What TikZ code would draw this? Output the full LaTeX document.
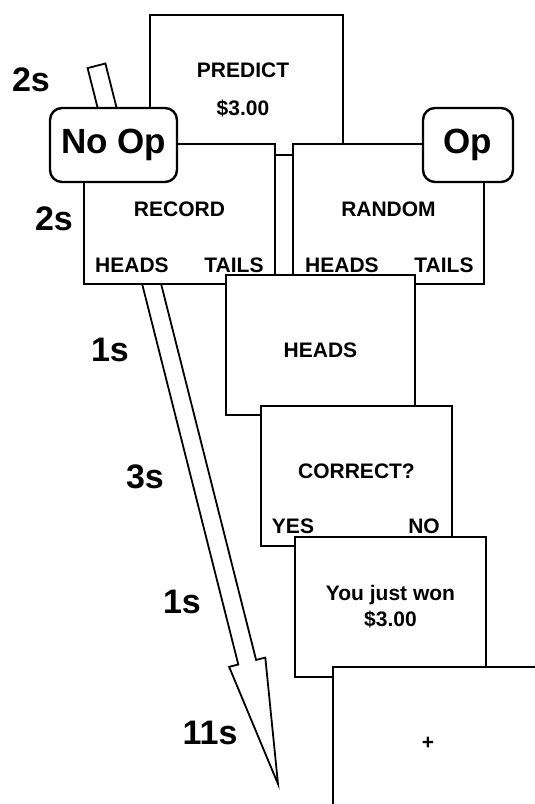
\documentclass[tikz,border=0pt]{standalone}
\usepackage{fontspec}
\setmainfont{Liberation Sans}
\usetikzlibrary{arrows}

\begin{document}
\begin{tikzpicture}[x=1pt,y=-1pt,
	screen_node/.style={rectangle,draw,fill=white,line width=2.4pt,minimum width=191pt,minimum height=140pt,inner sep=0pt,align=center,font=\fontsize{21}{26}\selectfont\bfseries},
	op_node/.style={rectangle,rounded corners=12pt,draw,fill=white,line width=2.4pt,minimum height=74pt,inner sep=0pt,font=\fontsize{35}{40}\selectfont\bfseries},
	time_node/.style={inner sep=0pt,font=\fontsize{34}{40}\selectfont\bfseries},
	choice_node/.style={inner sep=0pt,font=\fontsize{21}{26}\selectfont\bfseries}]
		\useasboundingbox (0,0) rectangle (535,804);

		% time arrow
		\draw[line width=1.8pt,fill=white] (87.6,68.1) -- (238.3,664.5) -- (229.1,666.8) -- (278,784)
			-- (265.3,657.6) -- (256.1,659.9) -- (105.4,63.5) -- cycle;

		\node[screen_node,minimum width=193pt] (predict) at (246.5,85) {};
		\node[choice_node] (pred_title) at (243,70) {PREDICT};
		\node[choice_node] (pred_sum) at (243,108) {\$3.00};
		\node[screen_node,text depth=10pt] (record) at (179.5,214) {RECORD};
		\node[screen_node,text depth=10pt] (random) at (388.5,214) {RANDOM};
		\node[choice_node] (rec_heads) at (132,265) {HEADS};
		\node[choice_node] (rec_tails) at (234,265) {TAILS};
		\node[choice_node] (ran_heads) at (342,265) {HEADS};
		\node[choice_node] (ran_tails) at (444,265) {TAILS};

		\node[op_node,minimum width=127pt] (noop) at (113.5,145) {No Op};
		\node[op_node,minimum width=90pt] (op) at (468,145) {Op};

		\node[screen_node,minimum width=189pt,text height=25pt] (outcome) at (320.5,345) {HEADS};
		\node[screen_node,text depth=10pt] (correct) at (356.5,476) {CORRECT?};
		\node[choice_node] (yes) at (293,526) {YES};
		\node[choice_node] (no) at (424,526) {NO};
		\node[screen_node] (won) at (390.5,607) {You just won\\\$3.00};
		\node[screen_node,minimum width=230pt] (fixation) at (448,737) {};
		\node[choice_node] (plus) at (428,743) {+};

		\node[time_node] (t1) at (31,80) {2s};
		\node[time_node] (t2) at (54,219) {2s};
		\node[time_node] (t3) at (110,350) {1s};
		\node[time_node] (t4) at (145,477) {3s};
		\node[time_node] (t5) at (182,602) {1s};
		\node[time_node] (t6) at (210,733) {11s};
		\end{tikzpicture}
\end{document}
